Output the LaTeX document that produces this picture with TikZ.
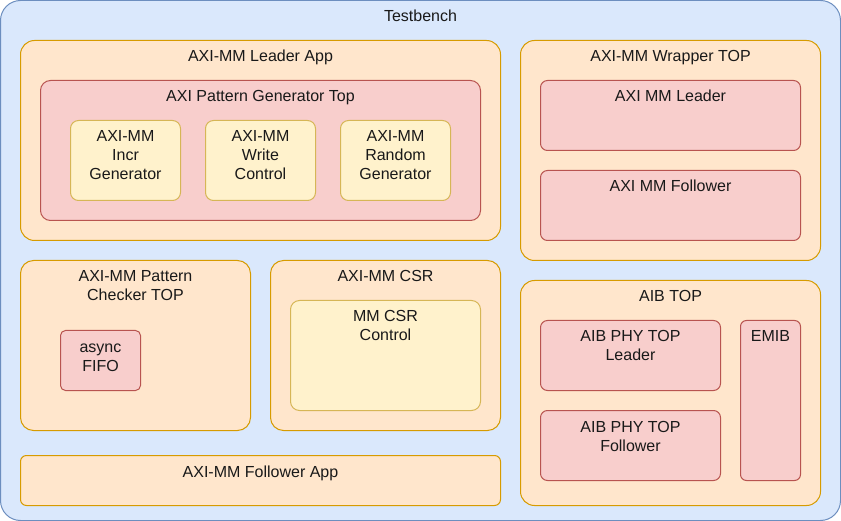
\documentclass[tikz,border=0pt]{standalone}
\usepackage{fontspec}
\setmainfont{Liberation Sans}
\definecolor{bfill}{HTML}{DAE8FC}\definecolor{bline}{HTML}{6C8EBF}
\definecolor{ofill}{HTML}{FFE6CC}\definecolor{oline}{HTML}{D79B00}
\definecolor{rfill}{HTML}{F8CECC}\definecolor{rline}{HTML}{B85450}
\definecolor{yfill}{HTML}{FFF2CC}\definecolor{yline}{HTML}{D6B656}
\tikzset{
  boxbase/.style={draw, line width=1pt, inner sep=0pt, anchor=north west, outer sep=0pt},
  bluebox/.style={boxbase, fill=bfill, draw=bline},
  orangebox/.style={boxbase, fill=ofill, draw=oline},
  redbox/.style={boxbase, fill=rfill, draw=rline},
  yellowbox/.style={boxbase, fill=yfill, draw=yline},
  sz/.style 2 args={minimum width=#1pt, minimum height=#2pt},
  lbl/.style={font=\fontsize{16pt}{19pt}\selectfont, align=center, anchor=base, inner sep=0pt, text=black!90},
}
% yshift for label: one line 21.5, two 40.5, three 59.5
\begin{document}
\begin{tikzpicture}[x=1pt,y=-1pt]
\useasboundingbox (0,0) rectangle (841,521);
\node[bluebox, sz={840}{520}, rounded corners=20pt] (tb) at (0.5,0.5) {};
\node[lbl] (tbt) at ([yshift=-21.5pt]tb.north) {Testbench};

% Leader app
\node[orangebox, sz={480}{200}, rounded corners=14pt] (la) at (20.5,40.5) {};
\node[lbl] (lat) at ([yshift=-21.5pt]la.north) {AXI-MM Leader App};
\node[redbox, sz={440}{140}, rounded corners=10pt] (pg) at (40.5,80.5) {};
\node[lbl] (pgt) at ([yshift=-21.5pt]pg.north) {AXI Pattern Generator Top};
\node[yellowbox, sz={110}{80}, rounded corners=8pt] (ig) at (70.5,120.5) {};
\node[lbl] (igt) at ([yshift=-59.5pt]ig.north) {AXI-MM\\Incr\\Generator};
\node[yellowbox, sz={110}{80}, rounded corners=8pt] (wc) at (205.5,120.5) {};
\node[lbl] (wct) at ([yshift=-59.5pt]wc.north) {AXI-MM\\Write\\Control};
\node[yellowbox, sz={110}{80}, rounded corners=8pt] (rg) at (340.5,120.5) {};
\node[lbl] (rgt) at ([yshift=-59.5pt]rg.north) {AXI-MM\\Random\\Generator};

% Wrapper
\node[orangebox, sz={300}{220}, rounded corners=14pt] (wt) at (520.5,40.5) {};
\node[lbl] (wtt) at ([yshift=-21.5pt]wt.north) {AXI-MM Wrapper TOP};
\node[redbox, sz={260}{70}, rounded corners=7pt] (ml) at (540.5,80.5) {};
\node[lbl] (mlt) at ([yshift=-21.5pt]ml.north) {AXI MM Leader};
\node[redbox, sz={260}{70}, rounded corners=7pt] (mf) at (540.5,170.5) {};
\node[lbl] (mft) at ([yshift=-21.5pt]mf.north) {AXI MM Follower};

% Checker
\node[orangebox, sz={230}{170}, rounded corners=13pt] (pc) at (20.5,260.5) {};
\node[lbl] (pct) at ([yshift=-40.5pt]pc.north) {AXI-MM Pattern\\Checker TOP};
\node[redbox, sz={80}{60}, rounded corners=5pt] (af) at (60.5,330.5) {};
\node[lbl] (aft) at ([yshift=-40.5pt]af.north) {async\\FIFO};

% CSR
\node[orangebox, sz={230}{170}, rounded corners=13pt] (cs) at (270.5,260.5) {};
\node[lbl] (cst) at ([yshift=-21.5pt]cs.north) {AXI-MM CSR};
\node[yellowbox, sz={190}{110}, rounded corners=9pt] (cc) at (290.5,300.5) {};
\node[lbl] (cct) at ([yshift=-40.5pt]cc.north) {MM CSR\\Control};

% Follower app
\node[orangebox, sz={480}{50}, rounded corners=6pt] (fa) at (20.5,455.5) {};
\node[lbl] (fat) at ([yshift=-21.5pt]fa.north) {AXI-MM Follower App};

% AIB
\node[orangebox, sz={300}{225}, rounded corners=14pt] (ai) at (520.5,280.5) {};
\node[lbl] (ait) at ([yshift=-21.5pt]ai.north) {AIB TOP};
\node[redbox, sz={180}{70}, rounded corners=7pt] (pl) at (540.5,320.5) {};
\node[lbl] (plt) at ([yshift=-40.5pt]pl.north) {AIB PHY TOP\\Leader};
\node[redbox, sz={180}{70}, rounded corners=7pt] (pf) at (540.5,410.5) {};
\node[lbl] (pft) at ([yshift=-40.5pt]pf.north) {AIB PHY TOP\\Follower};
\node[redbox, sz={60}{160}, rounded corners=6pt] (em) at (740.5,320.5) {};
\node[lbl] (emt) at ([yshift=-21.5pt]em.north) {EMIB};
\end{tikzpicture}
\end{document}
